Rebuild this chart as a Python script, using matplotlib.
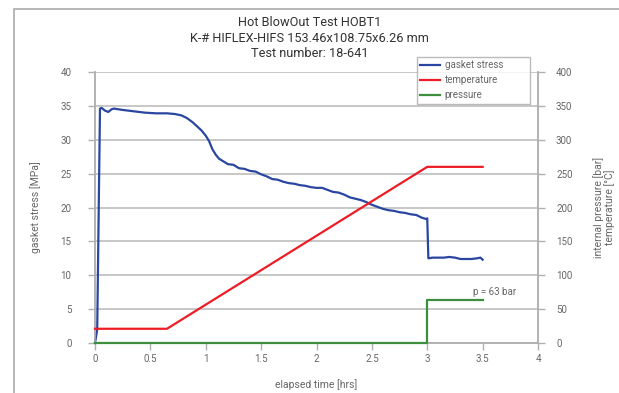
import numpy as np
import matplotlib
matplotlib.use("Agg")
import matplotlib.pyplot as plt
import matplotlib.patches as patches

# gasket stress [MPa] vs elapsed time [hrs]
t_stress = [0.0, 0.02, 0.045, 0.06, 0.09, 0.12, 0.15, 0.17, 0.25, 0.35, 0.45, 0.55, 0.65, 0.72,
            0.78, 0.83, 0.88, 0.92, 0.96, 1.0, 1.03, 1.06, 1.09, 1.12, 1.16, 1.2, 1.25, 1.3,
            1.35, 1.4, 1.45, 1.5, 1.55, 1.6, 1.65, 1.7, 1.75, 1.8, 1.85, 1.9, 1.95, 2.0,
            2.05, 2.1, 2.15, 2.2, 2.25, 2.3, 2.35, 2.4, 2.45, 2.5, 2.55, 2.6, 2.65, 2.7,
            2.75, 2.8, 2.85, 2.9, 2.95, 2.99, 3.0, 3.01, 3.05, 3.15, 3.2, 3.25, 3.3, 3.4,
            3.45, 3.48, 3.5]
stress = [0.0, 2.0, 34.6, 34.7, 34.3, 34.1, 34.5, 34.6, 34.4, 34.2, 34.0, 33.9, 33.9, 33.8,
          33.6, 33.2, 32.6, 32.0, 31.4, 30.6, 29.8, 28.6, 27.8, 27.2, 26.8, 26.4, 26.3, 25.8,
          25.7, 25.4, 25.3, 24.9, 24.6, 24.2, 24.1, 23.8, 23.6, 23.5, 23.3, 23.2, 23.0, 22.9,
          22.9, 22.6, 22.3, 22.2, 21.9, 21.5, 21.3, 21.1, 20.8, 20.4, 20.1, 19.8, 19.6, 19.5,
          19.3, 19.2, 19.0, 18.9, 18.5, 18.3, 18.4, 12.5, 12.6, 12.6, 12.7, 12.6, 12.4, 12.4,
          12.5, 12.6, 12.3]

# temperature [°C]
t_temp = [0.0, 0.65, 3.0, 3.5]
temp = [21, 21, 260, 260]

# internal pressure [bar]
t_press = [0.0, 3.0, 3.0, 3.5]
press = [0, 0, 63, 63]

blue = "#2a46a0"
red = "#ee1c25"
green = "#3d8f3f"
grey = "#666666"

plt.rcParams['font.family'] = ['Roboto', 'DejaVu Sans']
plt.rcParams['font.size'] = 7

fig = plt.figure(figsize=(6.19, 3.93), dpi=100)
# outer frame (partially visible)
fig.patches.append(patches.Rectangle((14 / 619, -0.1), 1.2, 1 - 9 / 393 + 0.1,
                                     transform=fig.transFigure, fill=False,
                                     ec="#aaaaaa", lw=1.2))

ax = fig.add_axes([95 / 619, 1 - 343 / 393, (538 - 95) / 619, (343 - 72) / 393])
ax2 = ax.twinx()

ax.plot(t_stress, stress, color=blue, lw=1.6, label="gasket stress", zorder=3, clip_on=False)
ax2.plot(t_temp, temp, color=red, lw=1.6, label="temperature", zorder=3, clip_on=False)
ax2.plot(t_press, press, color=green, lw=1.6, label="pressure", zorder=3, clip_on=False)
ax2.text(3.41, 76, "p = 63 bar", color=grey, fontsize=7, va="center", ha="left")

ax.set_xlim(0, 4)
ax.set_ylim(0, 40)
ax2.set_ylim(0, 400)
ax.set_xticks(np.arange(0, 4.01, 0.5))
ax.set_xticklabels(["0", "0.5", "1", "1.5", "2", "2.5", "3", "3.5", "4"])
ax.set_yticks(np.arange(0, 41, 5))
ax2.set_yticks(np.arange(0, 401, 50))

ax.yaxis.grid(True, color="#b8b8b8", lw=1.1)
ax.set_axisbelow(True)
for a in (ax, ax2):
    a.spines["top"].set_visible(False)
    for s in ("left", "right", "bottom"):
        a.spines[s].set_color("#b0b0b0")
        a.spines[s].set_linewidth(1.1)
    a.tick_params(colors="#b0b0b0", labelcolor=grey, length=5, width=1.0, labelsize=7)
ax.tick_params(axis="y", pad=12)
ax2.tick_params(axis="y", pad=8)
ax.tick_params(axis="x", pad=3)

ax.set_xlabel("elapsed time [hrs]", color=grey, fontsize=7.5, labelpad=11)
ax.set_ylabel("gasket stress [MPa]", color=grey, fontsize=7.5, labelpad=14)
ax2.set_ylabel("internal pressure [bar]\ntemperature [°C]", color=grey, fontsize=7.5,
               labelpad=15, linespacing=1.0)

fig.text(0.5, 1 - 38 / 393, "Hot BlowOut Test HOBT1\nK-# HIFLEX-HIFS 153.46x108.75x6.26 mm\nTest number: 18-641",
         ha="center", va="center", fontsize=9.2, color="#333333", linespacing=1.25,
         transform=fig.transFigure)

h1, l1 = ax.get_legend_handles_labels()
h2, l2 = ax2.get_legend_handles_labels()
leg = ax2.legend(h1 + h2, l1 + l2, loc="upper left",
                 bbox_to_anchor=((417 - 95) / 443, 0, (530 - 417) / 443, 1 + 15 / 271),
                 mode="expand",
                 frameon=True, fancybox=False, edgecolor="#aaaaaa", fontsize=7,
                 handlelength=2.0, borderpad=0.35, labelspacing=0.5, handletextpad=0.5,
                 borderaxespad=0)
for txt in leg.get_texts():
    txt.set_color(grey)
leg.get_frame().set_linewidth(1.0)

fig.savefig("out.png", dpi=100)
